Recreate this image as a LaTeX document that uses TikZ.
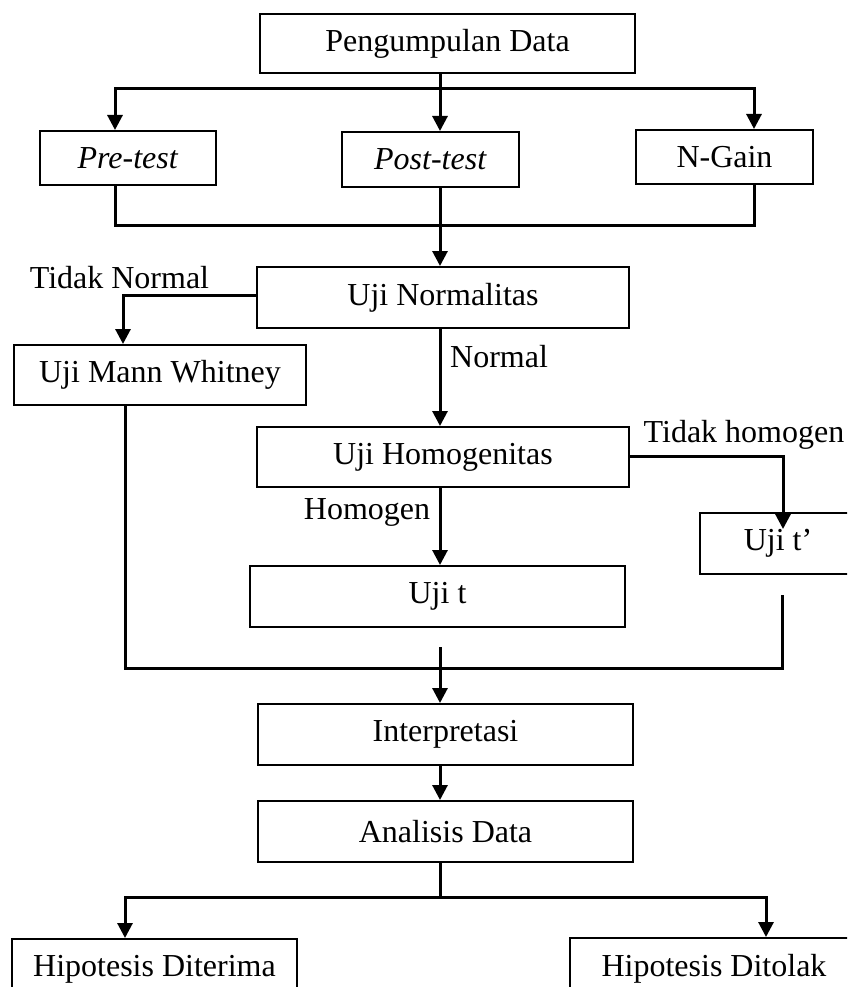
\documentclass[tikz,border=0pt]{standalone}
\usepackage{fontspec}
\setmainfont{Liberation Serif}
\usetikzlibrary{arrows.meta}
\begin{document}
\begin{tikzpicture}[x=1pt, y=-1pt,
  box/.style={draw, line width=2pt, inner sep=0pt, font=\fontsize{32}{38}\selectfont},
  lbl/.style={inner sep=0pt, font=\fontsize{32}{38}\selectfont},
  conn/.style={line width=3pt},
  arr/.style={conn, -{Triangle[width=15pt,length=15pt]}}]
\useasboundingbox (0,0) rectangle (847,987);
\clip (0,0) rectangle (847,987);
\node[box, minimum width=375pt, minimum height=59pt] (data) at (447.5,43.5) {Pengumpulan Data};
\node[box, minimum width=176pt, minimum height=54pt] (pre) at (128,158) {\textit{Pre-test}};
\node[box, minimum width=177pt, minimum height=55pt] (post) at (430.5,159.5) {\textit{Post-test}};
\node[box, minimum width=177pt, minimum height=54pt] (ngain) at (724.5,157) {N-Gain};
\node[box, minimum width=372pt, minimum height=61pt] (normalitas) at (443,297.5) {Uji Normalitas};
\node[box, minimum width=292pt, minimum height=60pt] (mann) at (160,375) {Uji Mann Whitney};
\node[box, minimum width=372pt, minimum height=60pt] (homogenitas) at (443,457) {Uji Homogenitas};
\node[box, minimum width=156pt, minimum height=61pt] (ujitp) at (778,543.5) {Uji t’};
\node[box, minimum width=375pt, minimum height=61pt] (ujit) at (437.5,596.5) {Uji t};
\node[box, minimum width=375pt, minimum height=61pt] (interp) at (445.5,734.5) {Interpretasi};
\node[box, minimum width=375pt, minimum height=61pt] (analisis) at (445.5,831.5) {Analisis Data};
\node[box, minimum width=285pt, minimum height=61pt] (diterima) at (154.5,969.5) {Hipotesis Diterima};
\node[box, minimum width=288pt, minimum height=61pt] (ditolak) at (714,968.5) {Hipotesis Ditolak};
\node[lbl] (tn) at (119.5,278) {Tidak Normal};
\node[lbl, anchor=west] (nm) at (450,357) {Normal};
\node[lbl] (th) at (744,435) {Tidak homogen};
\node[lbl] (hm) at (367,512) {Homogen};
\coordinate (a1) at (115,89);
\coordinate (a2) at (440,89);
\coordinate (a3) at (754,89);
\draw[arr] (data.south -| a2) -- (a2 |- post.north);
\draw[arr] (a2) -| (a1 |- pre.north);
\draw[arr] (a2) -| (a3 |- ngain.north);
\coordinate (b1) at (115,225);
\coordinate (b2) at (440,225);
\coordinate (b3) at (754,225);
\draw[conn] (pre.south -| b1) |- (b3) -- (ngain.south -| b3);
\draw[arr] (post.south -| b2) -- (b2 |- normalitas.north);
\coordinate (c1) at (123,295);
\draw[arr] (normalitas.west |- c1) -| (c1 |- mann.north);
\draw[arr] (normalitas.south -| a2) -- (a2 |- homogenitas.north);
\coordinate (d1) at (783,456);
\draw[arr, shorten >=-17pt] (homogenitas.east |- d1) -| (d1 |- ujitp.north);
\draw[arr] (homogenitas.south -| a2) -- (a2 |- ujit.north);
\coordinate (f1) at (125,668);
\coordinate (f2) at (440,668);
\coordinate (f3) at (782,668);
\draw[conn, shorten >=20pt] (mann.south -| f1) |- (f3) -- (ujitp.south -| f3);
\draw[arr, shorten <=19pt] (ujit.south -| f2) -- (f2 |- interp.north);
\draw[arr] (interp.south -| f2) -- (f2 |- analisis.north);
\coordinate (g1) at (125,897);
\coordinate (g2) at (440,897);
\coordinate (g3) at (766,897);
\draw[conn] (analisis.south -| g2) -- (g2);
\draw[arr] (g2) -| (g1 |- diterima.north);
\draw[arr] (g2) -| (g3 |- ditolak.north);
\end{tikzpicture}
\end{document}
